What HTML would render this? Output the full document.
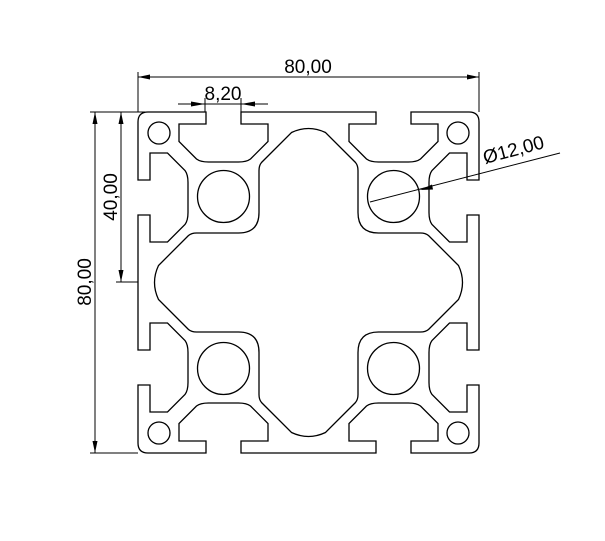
<!DOCTYPE html>
<html><head><meta charset="utf-8"><style>
html,body{margin:0;padding:0;background:#fff;}
svg{display:block;}
text{font-family:"Liberation Sans",sans-serif;font-size:19px;fill:#000;}
</style></head><body>
<svg width="605" height="541" viewBox="0 0 605 541" xmlns="http://www.w3.org/2000/svg">
<defs>
<path id="side" fill="none" stroke="#000" stroke-width="1.3" d="M -160.5,-170.5 L -102.5,-170.5 L -102.5,-158.5 L -129.5,-158.5 L -129.5,-141 L -112,-123.5 Q -108,-120.5 -100,-120.5 L -70,-120.5 Q -62,-120.5 -58,-123.5 L -40.5,-141 L -40.5,-158.5 L -67.5,-158.5 L -67.5,-170.5 L 67.5,-170.5 L 67.5,-158.5 L 40.5,-158.5 L 40.5,-141 L 58,-123.5 Q 62,-120.5 70,-120.5 L 100,-120.5 Q 108,-120.5 112,-123.5 L 129.5,-141 L 129.5,-158.5 L 102.5,-158.5 L 102.5,-170.5 L 160.5,-170.5 Q 170.5,-170.5 170.5,-160.5"/>
</defs>
<g transform="translate(308.5,282.5)" fill="none" stroke="#000" stroke-width="1.3">
<use href="#side"/>
<use href="#side" transform="rotate(90)"/>
<use href="#side" transform="rotate(180)"/>
<use href="#side" transform="rotate(270)"/>
<path d="M -17,-150 Q 0,-158 17,-150 L 47,-120 Q 49.5,-117 49.5,-112 L 49.5,-70 Q 49.5,-49.5 70,-49.5 L 112,-49.5 Q 117,-49.5 120,-47 L 150,-17 Q 158,0 150,17 L 120,47 Q 117,49.5 112,49.5 L 70,49.5 Q 49.5,49.5 49.5,70 L 49.5,112 Q 49.5,117 47,120 L 17,150 Q 0,158 -17,150 L -47,120 Q -49.5,117 -49.5,112 L -49.5,70 Q -49.5,49.5 -70,49.5 L -112,49.5 Q -117,49.5 -120,47 L -150,17 Q -158,0 -150,-17 L -120,-47 Q -117,-49.5 -112,-49.5 L -70,-49.5 Q -49.5,-49.5 -49.5,-70 L -49.5,-112 Q -49.5,-117 -47,-120 Z"/>
<circle cx="-85" cy="-86" r="26"/><circle cx="85" cy="-86" r="26"/>
<circle cx="-85" cy="86" r="26"/><circle cx="85" cy="86" r="26"/>
<circle cx="-149.5" cy="-149.5" r="11"/><circle cx="149.5" cy="-149.5" r="11"/>
<circle cx="-149.5" cy="150.5" r="11"/><circle cx="149.5" cy="150.5" r="11"/>
</g>
<g stroke="#000" stroke-width="1" fill="none">
<!-- top 80 -->
<line x1="138" y1="72" x2="138" y2="112"/><line x1="479" y1="72" x2="479" y2="112"/>
<line x1="138" y1="77" x2="479" y2="77"/>
<!-- 8,20 -->
<line x1="178" y1="104" x2="268" y2="104"/>
<line x1="205" y1="98" x2="205" y2="112"/><line x1="241" y1="98" x2="241" y2="112"/>
<line x1="137" y1="112" x2="145" y2="112"/>
<!-- left 80 -->
<line x1="90" y1="112" x2="138" y2="112"/><line x1="90" y1="453" x2="138" y2="453"/>
<line x1="95" y1="112" x2="95" y2="453"/>
<!-- 40 -->
<line x1="121" y1="112" x2="121" y2="282"/><line x1="116" y1="282" x2="138" y2="282"/>
<!-- dia leader -->
<line x1="370" y1="202" x2="560" y2="153"/>
</g>
<g fill="#000">
<polygon points="138,77 150,74.5 150,79.5"/><polygon points="479,77 467,74.5 467,79.5"/>
<polygon points="205,104 191,101.5 191,106.5"/><polygon points="241,104 255,101.5 255,106.5"/>
<polygon points="95,112 92.5,124 97.5,124"/><polygon points="95,453 92.5,441 97.5,441"/>
<polygon points="121,112 118.5,124 123.5,124"/><polygon points="121,282 118.5,270 123.5,270"/>
<polygon points="420,190 432,184.5 433,189.5"/>
</g>
<text x="308" y="73" text-anchor="middle">80,00</text>
<text x="223" y="100" text-anchor="middle">8,20</text>
<text transform="translate(91,282) rotate(-90)" text-anchor="middle">80,00</text>
<text transform="translate(117,197) rotate(-90)" text-anchor="middle">40,00</text>
<text transform="translate(485,164) rotate(-15)">&#216;12,00</text>
</svg>
</body></html>
